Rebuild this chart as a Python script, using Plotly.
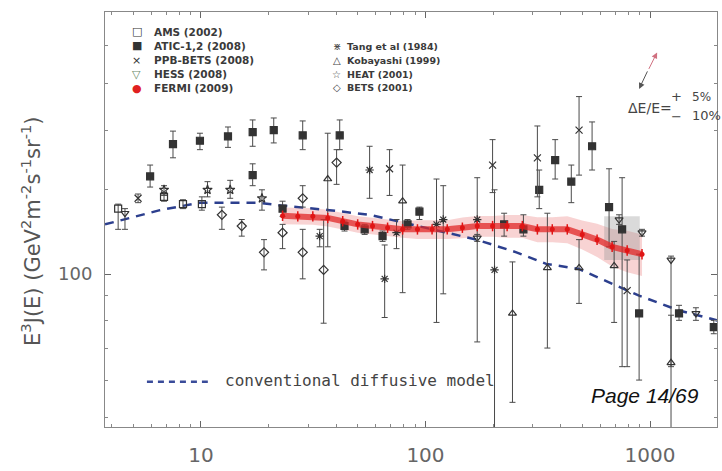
import math
import plotly.graph_objects as go

# ---------------- data (energy in GeV, flux E^3 J(E)) ----------------
# AMS (2002)
ams_E = [4.28, 6.85, 8.32, 10.1]
ams_V = [137, 145, 140, 140]
ams_hi = [140, 147, 143, 145]
ams_lo = [124, 142, 137, 136]

# ATIC-1,2 (2008)
atic_E = [5.94, 7.51, 9.90, 13.2, 17.0, 17.0, 21.1, 28.4, 41.5, 23.1, 43.6, 53.6, 64.4,
          83.2, 94.0, 224, 273, 321, 378, 446, 552, 657, 751, 894, 1346, 1923]
atic_V = [160, 187, 190, 194, 198, 161, 200, 195, 195, 137, 126, 124, 120,
          127, 135, 127, 124, 150, 173, 156, 185, 138, 124, 82.7, 82.7, 77.4]
atic_hi = [169, 199, 197, 203, 210, 170, 212, 209, 210, 142, 129, 127, 123,
           130, 138, 134, 133, 165, 191, 169, 208, 166, 159, 110, 86, 80]
atic_lo = [152, 175, 182, 184, 185, 153, 188, 182, 182, 132, 123, 121, 117,
           124, 130, 120, 120, 137, 158, 141, 165, 114, 64, 60, 80, 75]

# PPB-BETS (2008)
ppb_E = [5.25, 69.2, 199, 315, 483, 791]
ppb_V = [144, 166, 169, 175, 200, 92.3]
ppb_hi = [147, 182, 191, 204, 235, 107]
ppb_lo = [141, 146, 148, 145, 161, 64]

# HESS (2008)
hess_E = [4.59, 170, 728, 921, 1240, 1601]
hess_V = [134, 119, 130, 122, 107, 82.7]
hess_hi = [137, 121, 133, 124, 109, 85]
hess_lo = [124, 117, 127, 120, 64, 80]
hess_sys_E = [625, 900]
hess_sys_lo = [107, 107]
hess_sys_hi = [132, 132]

# Tang et al (1984)
tang_E = [33.8, 56.4, 65.8, 74.3, 112, 120, 170, 203]
tang_V = [120, 165, 97.7, 122, 127, 130, 130, 102]
tang_hi = [124, 185, 115, 130, 158, 153, 159, 150]
tang_lo = [114, 144, 81.1, 113, 79.2, 90.9, 72.1, 40]

# Kobayashi (1999)
koba_E = [36.7, 79.1, 244, 349, 483, 692, 1240]
koba_V = [158, 142, 82.7, 103, 103, 104, 65.2]
koba_hi = [197, 169, 106, 134, 118, 117, 82]
koba_lo = [114, 91.4, 53.9, 70, 86.8, 79.2, 40]

# HEAT (2001)
heat_E = [6.85, 10.7, 13.5, 18.7]
heat_V = [150, 150, 150, 144]
heat_hi = [153, 156, 157, 150]
heat_lo = [146, 145, 144, 136]

# BETS (2001)
bets_E = [12.4, 15.2, 19.1, 23.1, 28.4, 28.4, 35.2, 40.2]
bets_V = [133, 126, 111, 122, 144, 111, 102, 171]
bets_hi = [138, 130, 118, 127, 153, 124, 130, 182]
bets_lo = [124, 120, 102, 113, 138, 97.7, 78.9, 154]

# FERMI (2009)
fermi_E = [23.1, 27.0, 31.5, 36.7, 42.8, 49.9, 58.1, 67.8, 79.1, 92.1, 107, 125, 146,
           170, 199, 231, 270, 315, 367, 428, 499, 581, 678, 791, 921]
fermi_V = [132.4, 132, 132, 131, 129, 127, 126, 125, 124, 124, 124, 124, 125,
           126, 126, 126, 126, 124, 124, 124, 121, 118, 114, 112, 110]
fermi_sys = [0.04, 0.04, 0.04, 0.04, 0.04, 0.04, 0.04, 0.04, 0.04, 0.045, 0.045, 0.045, 0.05,
             0.05, 0.05, 0.055, 0.055, 0.06, 0.06, 0.065, 0.07, 0.08, 0.09, 0.1, 0.1]

# conventional diffusive model
model_E = [3.74, 6.57, 9.90, 17.7, 23.1, 37.4, 56.4, 74.3, 169, 254, 345, 483, 706, 894, 1346, 2069]
model_V = [127, 136, 141, 141, 139, 136, 133, 129, 118, 111, 105, 102.4, 94.5, 90.1, 83.9, 79.6]

x_ticks = [10, 100, 1000]
x_ticktext = ["10", "100", "1000"]
y_ticks = [100]
y_ticktext = ["100"]

# ---------------- layout geometry ----------------
W, H = 722, 471
L, R, T, B = 105, 718, 12, 433
PW, PH = R - L, B - T


def px(x):
    return (x - L) / PW


def py(y):
    return (B - y) / PH


def err(vals, hi, lo, color="#4a4a4a"):
    return dict(type="data", symmetric=False,
                array=[h - v for h, v in zip(hi, vals)],
                arrayminus=[v - l for v, l in zip(vals, lo)],
                color=color, thickness=1, width=3)


fig = go.Figure()

# Fermi systematic band
band_hi = [v * (1 + s) for v, s in zip(fermi_V, fermi_sys)]
band_lo = [v * (1 - s) for v, s in zip(fermi_V, fermi_sys)]
fig.add_trace(go.Scatter(x=fermi_E + fermi_E[::-1], y=band_hi + band_lo[::-1],
                         fill="toself", fillcolor="rgba(235,130,130,0.35)",
                         line=dict(width=0), mode="lines", hoverinfo="skip"))
# HESS systematic box
fig.add_trace(go.Scatter(x=[hess_sys_E[0], hess_sys_E[1], hess_sys_E[1], hess_sys_E[0]],
                         y=[hess_sys_lo[0], hess_sys_lo[1], hess_sys_hi[1], hess_sys_hi[0]],
                         fill="toself", fillcolor="rgba(150,150,150,0.35)",
                         line=dict(width=0), mode="lines", hoverinfo="skip"))

# conventional model
fig.add_trace(go.Scatter(x=model_E, y=model_V, mode="lines",
                         line=dict(color="#2c3f8e", width=2.5, dash="9px,7px")))

mk = dict(size=7, color="#333333", line=dict(color="#333333", width=1.2))
sets = [
    (ams_E, ams_V, ams_hi, ams_lo, "square-open"),
    (atic_E, atic_V, atic_hi, atic_lo, "square"),
    (ppb_E, ppb_V, ppb_hi, ppb_lo, "x-thin-open"),
    (hess_E, hess_V, hess_hi, hess_lo, "triangle-down-open"),
    (tang_E, tang_V, tang_hi, tang_lo, "asterisk-open"),
    (koba_E, koba_V, koba_hi, koba_lo, "triangle-up-open"),
    (heat_E, heat_V, heat_hi, heat_lo, "star-open"),
    (bets_E, bets_V, bets_hi, bets_lo, "diamond-open"),
]
for e, v, hi, lo, sym in sets:
    fig.add_trace(go.Scatter(x=e, y=v, mode="markers",
                             marker=dict(symbol=sym, **mk),
                             error_y=err(v, hi, lo)))

# Fermi spectrum
fig.add_trace(go.Scatter(x=fermi_E, y=fermi_V, mode="lines",
                         line=dict(color="rgba(225,40,40,0.75)", width=6)))
fig.add_trace(go.Scatter(x=fermi_E, y=fermi_V, mode="markers",
                         marker=dict(symbol="circle", size=5, color="#e01515"),
                         error_y=dict(type="percent", value=2.5, color="#e01515",
                                      thickness=1.5, width=0)))

axis_common = dict(type="log", showgrid=False, zeroline=False, showline=True,
                   linecolor="#888888", linewidth=1, mirror="ticks",
                   ticks="inside", ticklen=6, tickcolor="#666666")
fig.update_xaxes(range=[math.log10(3.74), math.log10(1987)],
                 tickmode="array", tickvals=x_ticks, ticktext=x_ticktext,
                 tickfont=dict(family="DejaVu Sans", size=20, color="#666666"),
                 ticklabelstandoff=10,
                 minor=dict(ticks="inside", ticklen=3, tickcolor="#888888",
                            tickvals=[4, 5, 6, 7, 8, 9, 20, 30, 40, 50, 60, 70, 80, 90,
                                      200, 300, 400, 500, 600, 700, 800, 900]),
                 **axis_common)
fig.update_yaxes(range=[1.680, 2.548],
                 tickmode="array", tickvals=y_ticks, ticktext=y_ticktext,
                 tickfont=dict(family="DejaVu Sans", size=18, color="#666666"),
                 ticklabelstandoff=8,
                 minor=dict(ticks="inside", ticklen=3, tickcolor="#888888",
                            tickvals=[50, 60, 70, 80, 90, 150, 200, 250, 300]),
                 **axis_common)

ann = []


def text(x, y, s, size, color="#333333", family="DejaVu Sans", xanchor="left", **kw):
    ann.append(dict(x=px(x), y=py(y), xref="paper", yref="paper", text=s,
                    showarrow=False, xanchor=xanchor, yanchor="middle",
                    font=dict(size=size, color=color, family=family), **kw))


# legend, left column
left_items = [("□", "#333", "AMS (2002)"), ("■", "#333", "ATIC-1,2 (2008)"),
              ("×", "#333", "PPB-BETS (2008)"), ("▽", "#6a8a6a", "HESS (2008)"),
              ("●", "#e02020", "FERMI (2009)")]
for i, (g, c, s) in enumerate(left_items):
    yy = 32 + i * 14.4
    text(137, yy, g, 11, color=c, xanchor="center")
    text(152, yy, "<b>" + s + "</b>", 10.5, color="#3a3a3a")
right_items = [("⋇", "Tang et al (1984)"), ("△", "Kobayashi (1999)"),
               ("☆", "HEAT (2001)"), ("◇", "BETS (2001)")]
for i, (g, s) in enumerate(right_items):
    yy = 47 + i * 14.0
    text(337, yy, g, 10, color="#444", xanchor="center")
    text(345, yy, "<b>" + s + "</b>", 9.5, color="#3a3a3a")

# model legend
text(223, 386, "conventional diffusive model", 16, color="#444444",
     family="DejaVu Sans Mono")

# energy resolution marker
text(651, 109, "ΔE/E=", 14, color="#444", xanchor="center")
text(677, 98, "+", 13, color="#444", xanchor="center")
text(677, 118, "−", 13, color="#444", xanchor="center")
text(691, 98, "5%", 12, color="#444")
text(691, 117, "10%", 13, color="#444")

# y-axis title
ann.append(dict(x=px(31), y=py(235), xref="paper", yref="paper",
                text="E<sup>3</sup>J(E) (GeV<sup>2</sup>m<sup>-2</sup>s<sup>-1</sup>sr<sup>-1</sup>)",
                showarrow=False, textangle=-90, xanchor="center", yanchor="middle",
                font=dict(size=21, color="#555555", family="DejaVu Sans")))

# page footer
ann.append(dict(x=px(702), y=py(401), xref="paper", yref="paper", text="<i>Page 14/69</i>",
                showarrow=False, xanchor="right", yanchor="middle",
                font=dict(size=21, color="#111111", family="Liberation Sans")))

# double arrow (two heads pointing away from a common middle)
mid_x, mid_y = 649, 71
for hx, hy, col in [(658, 53, "#d07080"), (640, 90, "#555555")]:
    ann.append(dict(x=px(hx), y=py(hy), xref="paper", yref="paper",
                    ax=mid_x - hx, ay=mid_y - hy, axref="pixel", ayref="pixel",
                    text="", showarrow=True, arrowhead=2,
                    arrowsize=1.2, arrowwidth=1, arrowcolor=col))

shapes = [dict(type="line", xref="paper", yref="paper", x0=px(147), x1=px(208),
               y0=py(387), y1=py(387), line=dict(color="#3a4c9a", width=2.5, dash="6px,5px"))]

fig.update_layout(width=W, height=H, margin=dict(l=L, r=W - R, t=T, b=H - B),
                  paper_bgcolor="white", plot_bgcolor="white", showlegend=False,
                  annotations=ann, shapes=shapes)

fig.write_html("out.html")
